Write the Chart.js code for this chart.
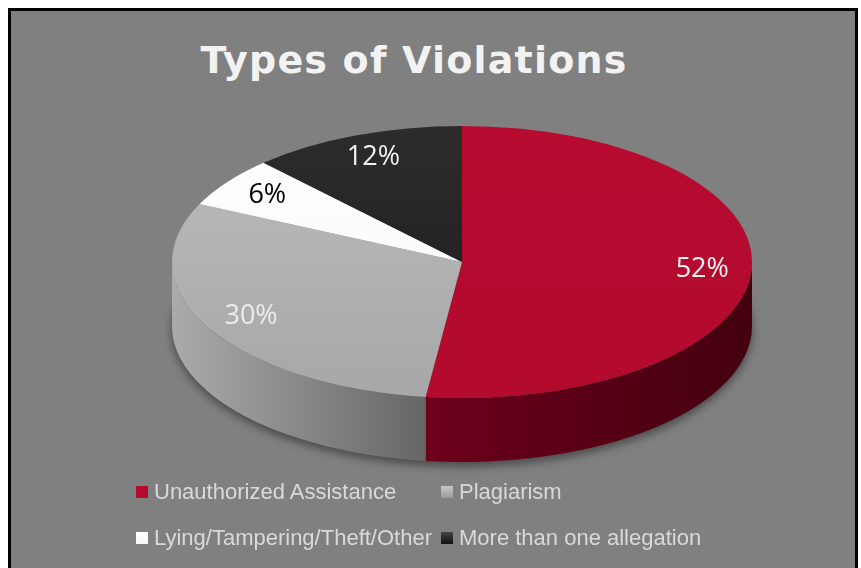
<!DOCTYPE html>
<html>
<head>
<meta charset="utf-8">
<script src="https://cdn.jsdelivr.net/npm/chart.js@4.4.0/dist/chart.umd.min.js"></script>
<style>
  html, body { margin: 0; padding: 0; background: #fff; overflow: hidden; }
  body { width: 861px; height: 568px; position: relative; }
  .panel {
    position: absolute; left: 8px; top: 8px; width: 844px; height: 600px;
    border: 3px solid #000; background: #808080;
  }
  #title {
    position: absolute; left: 0; top: 38px; width: 828px; text-align: center;
    font: bold 38px "DejaVu Sans", sans-serif; color: #f2f2f2; letter-spacing: 1.2px;
  }
  #chart { position: absolute; left: 0; top: 0; }
  #legend {
    position: absolute; left: 136px; top: 477px;
    display: grid; grid-template-columns: 305px auto; row-gap: 16px;
    font: 22px "Liberation Sans", Arial, sans-serif; color: #d9d9d9;
  }
  .item { display: flex; align-items: center; height: 30px; white-space: nowrap; }
  .box { width: 12px; height: 12px; margin-right: 6px; }
</style>
</head>
<body>
<div class="panel"></div>
<div id="title">Types of Violations</div>
<canvas id="chart" width="861" height="568"></canvas>
<div id="legend"></div>

<script>
// values (percent of all violations)
const categories = ['Unauthorized Assistance', 'Plagiarism', 'Lying/Tampering/Theft/Other', 'More than one allegation'];
const shares = [52, 30, 6, 12];

// face colours: [top of face, bottom of face]
const topColors = [['#b70b30', '#b30a2e'], ['#bcbcbc', '#a7a7a7'], ['#ffffff', '#f6f6f6'], ['#2c2c2c', '#1a1a1a']];
// side colours: [left, right]
const sideColors = [['#6e001b', '#43000f'], ['#ababab', '#666666'], ['#e0e0e0', '#a0a0a0'], ['#2a2a2a', '#111111']];
const labelColors = ['#f2f2f2', '#ececec', '#000000', '#f2f2f2'];

// legend (html so it can keep the two-column grid)
const legendEl = document.getElementById('legend');
categories.forEach((name, i) => {
  const item = document.createElement('div');
  item.className = 'item';
  const box = document.createElement('span');
  box.className = 'box';
  box.style.background = `linear-gradient(${topColors[i][0]}, ${topColors[i][1]})`;
  if (i === 1) box.style.background = 'linear-gradient(#c8c8c8, #9a9a9a)';
  if (i === 3) box.style.background = 'linear-gradient(#444, #111)';
  item.appendChild(box);
  item.appendChild(document.createTextNode(name));
  legendEl.appendChild(item);
});

// draws the pie as a tilted disc: side walls first, then squashed top faces
const pie3d = {
  id: 'pie3d',
  beforeDatasetsDraw(chart, args, opts) {
    const { ctx, chartArea } = chart;
    const meta = chart.getDatasetMeta(0);
    const first = meta.data[0];
    const cx = first.x, cy = first.y, r = first.outerRadius;
    const sx = (chartArea.width / 2) / r;
    const rx = r * sx, ry = r, d = opts.depth;

    // drop shadow under the disc
    ctx.save();
    ctx.shadowColor = 'rgba(0,0,0,0.45)';
    ctx.shadowBlur = 10;
    ctx.shadowOffsetY = 4;
    ctx.fillStyle = '#555';
    ctx.beginPath();
    ctx.ellipse(cx, cy + d, rx, ry, 0, 0, Math.PI * 2);
    ctx.fill();
    ctx.restore();

    // side walls (only the front half is visible)
    meta.data.forEach((arc, i) => {
      const s = Math.max(arc.startAngle, 0);
      const e = Math.min(arc.endAngle, Math.PI);
      if (s >= e) return;
      const xl = cx + rx * Math.cos(e), xr = cx + rx * Math.cos(s);
      const g = ctx.createLinearGradient(xl, 0, xr, 0);
      g.addColorStop(0, sideColors[i][0]);
      g.addColorStop(1, sideColors[i][1]);
      ctx.fillStyle = g;
      ctx.beginPath();
      ctx.ellipse(cx, cy, rx, ry, 0, s, e);
      ctx.ellipse(cx, cy + d, rx, ry, 0, e, s, true);
      ctx.closePath();
      ctx.fill();
    });

    // stretch the round pie into the ellipse for the top faces
    ctx.save();
    ctx.translate(cx, cy);
    ctx.scale(sx, 1);
    ctx.translate(-cx, -cy);
  },
  afterDatasetsDraw(chart, args, opts) {
    const { ctx, chartArea } = chart;
    ctx.restore();
    const meta = chart.getDatasetMeta(0);
    const data = chart.data.datasets[0].data;
    const total = data.reduce((a, b) => a + b, 0);
    const first = meta.data[0];
    const cx = first.x, cy = first.y, r = first.outerRadius;
    const rx = chartArea.width / 2, ry = r;
    ctx.save();
    ctx.font = '27px "Open Sans", sans-serif';
    ctx.textAlign = 'center';
    ctx.textBaseline = 'middle';
    meta.data.forEach((arc, i) => {
      const mid = (arc.startAngle + arc.endAngle) / 2;
      const x = cx + rx * opts.labelRadius * Math.cos(mid);
      const y = cy + ry * opts.labelRadius * Math.sin(mid);
      ctx.fillStyle = labelColors[i];
      ctx.fillText(Math.round(data[i] / total * 100) + '%', x, y);
    });
    ctx.restore();
  }
};

new Chart(document.getElementById('chart'), {
  type: 'pie',
  data: {
    labels: categories,
    datasets: [{
      data: shares,
      clip: false,
      borderWidth: 0,
      backgroundColor: (c) => {
        const area = c.chart.chartArea;
        const i = c.dataIndex;
        if (!area) return topColors[i][0];
        const g = c.chart.ctx.createLinearGradient(0, area.top, 0, area.bottom);
        g.addColorStop(0, topColors[i][0]);
        g.addColorStop(1, topColors[i][1]);
        return g;
      }
    }]
  },
  options: {
    responsive: false,
    devicePixelRatio: 1,
    animation: false,
    layout: { padding: { left: 172, right: 109, top: 126, bottom: 170 } },
    plugins: {
      legend: { display: false },
      tooltip: { enabled: false },
      pie3d: { depth: 64, labelRadius: 0.83 }
    }
  },
  plugins: [pie3d]
});
</script>
</body>
</html>
